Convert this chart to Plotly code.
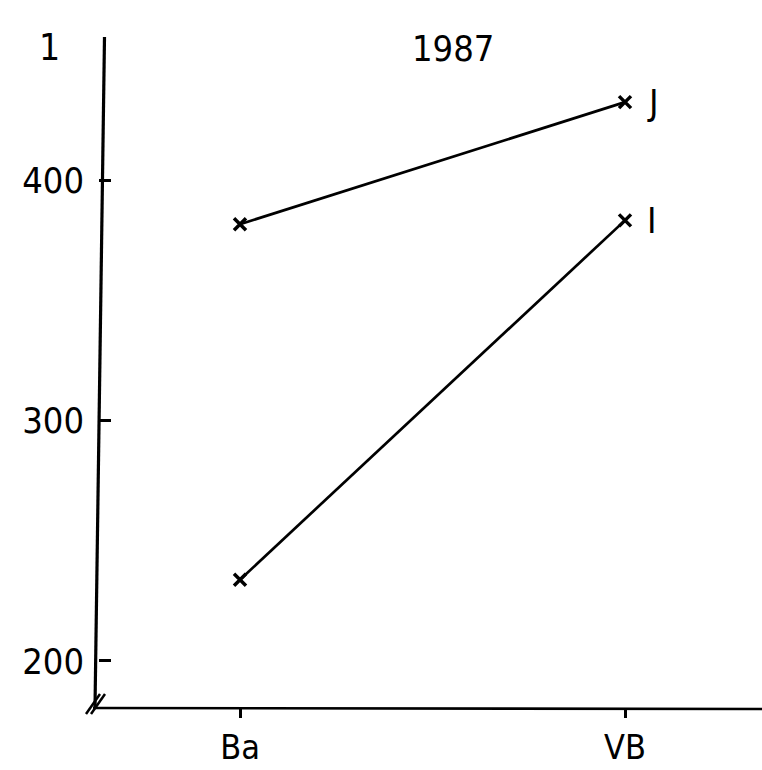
import plotly.graph_objects as go

categories = ["Ba", "VB"]
series_J = [381.7, 432.5]
series_I = [233.8, 383.3]
y_ticks = [200, 300, 400]
title_text = "1987"
panel_label = "1"

FONT = "Liberation Sans Narrow, DejaVu Sans Condensed, DejaVu Sans"
W, H = 762, 770
# plot area in window pixels: x 99..762, y 37..708
L, R, T, B = 99, 0, 37, 770 - 708
pw, ph = W - L - R, H - T - B

def px(xp):
    return (xp - L) / pw

def py(yp):
    return (H - B - yp) / ph

fig = go.Figure()
for name, vals in [("J", series_J), ("I", series_I)]:
    fig.add_trace(go.Scatter(
        x=categories, y=vals, mode="lines+markers", name=name,
        line=dict(color="black", width=2.7),
        marker=dict(symbol="x-thin", size=12, line=dict(color="black", width=3.5)),
        showlegend=False,
    ))
    fig.add_annotation(x=categories[-1], y=vals[-1], text=name, showarrow=False,
                       xanchor="left", xshift=20, font=dict(family=FONT, size=36, color="black"))

fig.add_annotation(xref="paper", yref="paper", x=px(453), y=py(26), text=title_text,
                   showarrow=False, font=dict(family=FONT, size=36, color="black"))
fig.add_annotation(xref="paper", yref="paper", x=px(37), y=py(24), text=panel_label,
                   showarrow=False, font=dict(family=FONT, size=37, color="black"))

# hand-drawn (slightly slanted) axis lines
fig.add_shape(type="line", xref="paper", yref="paper",
              x0=px(104.5), y0=py(37), x1=px(95), y1=py(708),
              line=dict(color="black", width=3.2))
fig.add_shape(type="line", xref="paper", yref="paper",
              x0=px(93), y0=py(708), x1=px(762), y1=py(709),
              line=dict(color="black", width=2.7))

# axis break marks
for dx in (0, 5):
    fig.add_shape(type="line", xref="paper", yref="paper",
                  x0=px(86 + dx), y0=py(714), x1=px(100 + dx), y1=py(694),
                  line=dict(color="black", width=2.5))

fig.update_layout(
    width=W, height=H, margin=dict(l=L, r=R, t=T, b=B),
    paper_bgcolor="white", plot_bgcolor="white",
    xaxis=dict(type="category", range=[-141 / 385, 1 + 137 / 385],
               showline=False, showgrid=False, zeroline=False,
               ticks="outside", ticklen=9, tickwidth=2.5, tickcolor="black",
               tickfont=dict(family=FONT, size=34, color="black")),
    yaxis=dict(range=[180.4, 459.6], tickvals=y_ticks,
               showline=False, showgrid=False, zeroline=False,
               ticks="inside", ticklen=12, tickwidth=2.5, tickcolor="black",
               ticklabelstandoff=14,
               tickfont=dict(family=FONT, size=36, color="black")),
)
fig.write_html("out.html", config={"displayModeBar": False},
               post_script="document.body.style.margin='0';document.body.style.overflow='hidden';")
